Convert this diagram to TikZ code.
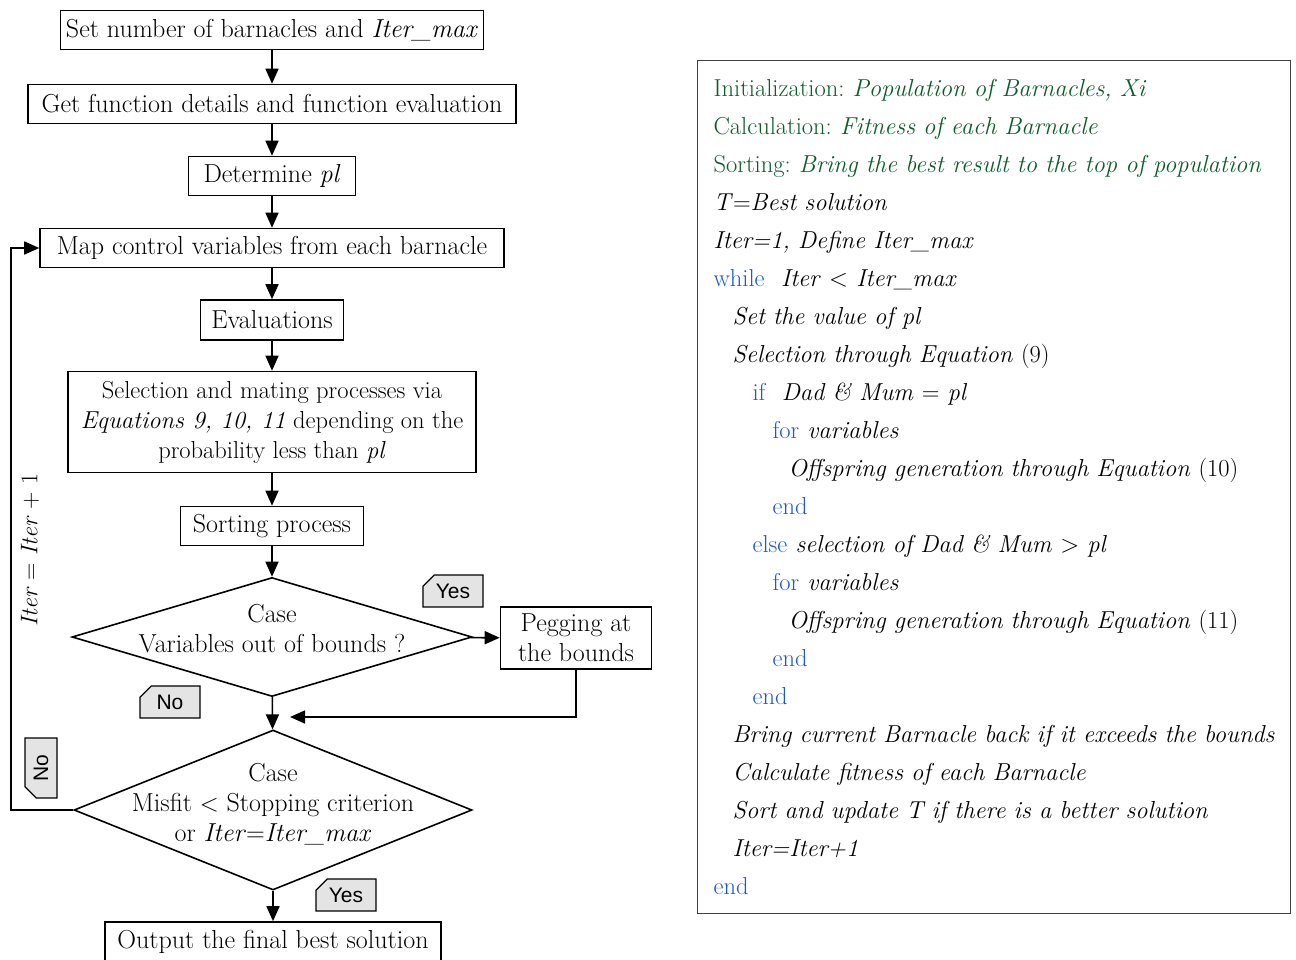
\documentclass[tikz,border=0pt]{standalone}
\usepackage{fontspec}
\usepackage{xcolor}
\usetikzlibrary{positioning,shapes.geometric,shapes.misc,arrows.meta}
\newfontfamily\tabfont{Liberation Sans}
\newcommand{\bodysize}{\fontsize{26}{30}\selectfont}
\newcommand{\listsize}{\fontsize{24.5}{38}\selectfont}
\definecolor{codegreen}{RGB}{12,92,42}
\definecolor{codeblue}{RGB}{28,88,205}
\definecolor{tabgray}{RGB}{228,228,228}
\newcommand{\kw}[1]{\textcolor{codeblue}{#1}}
\frenchspacing

\begin{document}
\begin{tikzpicture}[x=1pt, y=-1pt, line width=1.6pt, >={Triangle[length=15pt,width=13pt]},
    box/.style={draw, rectangle, font=\bodysize, minimum height=39pt, inner xsep=6pt, inner ysep=2pt, align=center},
    dec/.style={draw, diamond, inner sep=0pt},
    tab/.style={draw, fill=tabgray, line width=1.3pt, chamfered rectangle, chamfered rectangle corners=north west,
        chamfered rectangle xsep=9pt, font=\tabfont\fontsize{21}{24}\selectfont, minimum width=60pt, minimum height=32pt, inner sep=1pt}]
        \useasboundingbox (0,0) rectangle (1296,959);

        \node[box, minimum width=423pt, inner xsep=2pt] (setup) at (272,30) {Set number of barnacles and \textit{Iter\_max}};
        \node[box, minimum width=488pt] (func) at (272,104) {Get function details and function evaluation};
        \node[box, minimum width=167pt] (pl) at (272,176) {Determine \textit{pl}};
        \node[box, minimum width=464pt] (map) at (272,248) {Map control variables from each barnacle};
        \node[box, minimum width=143pt, minimum height=40pt] (eval) at (272,320) {Evaluations};
        \node[box, minimum width=408pt, minimum height=101pt, inner xsep=1pt, font=\fontsize{24.5}{30}\selectfont] (mate) at (272,422) {Selection and mating processes via\\\textit{Equations 9, 10, 11} depending on the\\probability less than \textit{pl}};
        \node[box, minimum width=183pt] (sort) at (272,526) {Sorting process};
        \node[dec, minimum width=400pt, minimum height=119pt,
            label={[font=\bodysize, align=center, yshift=8pt]center:Case\\Variables out of bounds ?}] (bounds) at (272,637) {};
        \node[box, minimum width=151pt, minimum height=62pt] (peg) at (576,638) {Pegging at\\the bounds};
        \coordinate (merge) at (272,717);
        \node[dec, minimum width=398pt, minimum height=160pt,
            label={[font=\bodysize, align=center, yshift=6pt]center:Case\\Misfit $<$ Stopping criterion\\or \textit{Iter}=\textit{Iter\_max}}] (stop) at (273,810) {};
        \node[box, minimum width=336pt, minimum height=40pt] (out) at (273,942) {Output the final best solution};
        \node[font=\fontsize{24}{28}\selectfont, rotate=90] (inc) at (30,550) {\textit{Iter} = \textit{Iter} + 1};

        \node[tab] (yes1) at (453,591) {Yes};
        \node[tab] (no1) at (170,702) {No};
        \node[tab, rotate=90] (no2) at (41,768) {No};
        \node[tab] (yes2) at (346,895) {Yes};

        \draw[->] (setup) -- (func);
        \draw[->] (func) -- (pl);
        \draw[->] (pl) -- (map);
        \draw[->] (map) -- (eval);
        \draw[->] (eval) -- (mate);
        \draw[->] (mate) -- (sort);
        \draw[->] (sort) -- (bounds);
        \draw[->] (bounds) -- (peg);
        \draw[->] (bounds) -- (stop);
        \draw[->] (peg.south) |- ([xshift=18pt]merge);
        \draw[->] (stop) -- (out);
        \draw[->] (stop.west) -- ++(-62,0) |- (map.west);

        \node[draw=black!75, line width=1.2pt, anchor=north west, minimum width=593pt, minimum height=853pt,
            text width=561pt, inner xsep=16pt, align=left, font=\listsize] (code) at (697,60) {%
            \textcolor{codegreen}{Initialization: \textit{Population of Barnacles, Xi}}\\
            \textcolor{codegreen}{Calculation: \textit{Fitness of each Barnacle}}\\
            \textcolor{codegreen}{\mbox{Sorting: \textit{Bring the best result to the top of population}}}\\
            \textit{T}=\textit{Best solution}\\
            \textit{Iter=1, Define Iter\_max}\\
            \kw{while}\ \ \textit{Iter} $<$ \textit{Iter\_max}\\
            \hspace*{19pt}\textit{Set the value of pl}\\
            \hspace*{19pt}\textit{Selection through Equation} (9)\\
            \hspace*{39pt}\kw{if}\ \ \textit{Dad \& Mum} = \textit{pl}\\
            \hspace*{59pt}\kw{for} \textit{variables}\\
            \hspace*{75pt}\textit{Offspring generation through Equation} (10)\\
            \hspace*{59pt}\kw{end}\\
            \hspace*{39pt}\kw{else} \textit{selection of Dad \& Mum} $>$ \textit{pl}\\
            \hspace*{59pt}\kw{for} \textit{variables}\\
            \hspace*{75pt}\textit{Offspring generation through Equation} (11)\\
            \hspace*{59pt}\kw{end}\\
            \hspace*{39pt}\kw{end}\\
            \hspace*{19pt}\mbox{\textit{Bring current Barnacle back if it exceeds the bounds}}\\
            \hspace*{19pt}\textit{Calculate fitness of each Barnacle}\\
            \hspace*{19pt}\textit{Sort and update T if there is a better solution}\\
            \hspace*{19pt}\textit{Iter=Iter+1}\\
            \kw{end}};
    \end{tikzpicture}
\end{document}
